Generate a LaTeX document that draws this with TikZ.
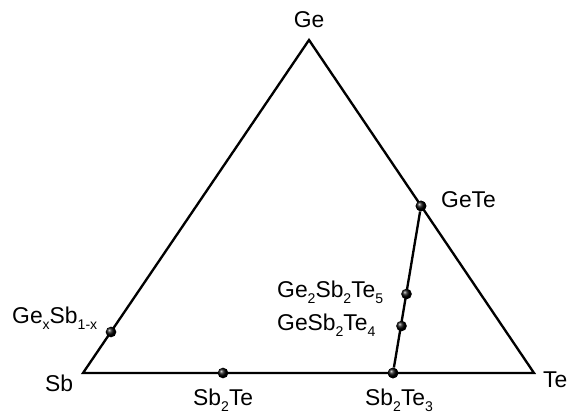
\documentclass[tikz,border=0pt]{standalone}
\usepackage{fontspec}
\setmainfont{Liberation Sans}
\usepackage{tikz}
\usetikzlibrary{positioning,shadings}
\newcommand{\chemsub}[1]{\raisebox{-5.5pt}{\fontsize{12}{12}\selectfont #1}}

\begin{document}
\begin{tikzpicture}[x=0.03cm, y=-0.03cm,
    edge/.style={line width=2pt, line join=miter},
    phase/.style={circle, inner sep=0pt, minimum size=0.32cm, shade, ball color=black},
    lbl/.style={anchor=base west, inner sep=0pt, font=\fontsize{19.5}{23}\selectfont}]
    \useasboundingbox (0, 0) rectangle (571, 416);
    % --- Corners of the triangle ---
    \coordinate (sb) at (83, 373);
    \coordinate (te) at (534, 373);
    \coordinate (ge) at (309, 40);
    \draw[edge] (sb) -- (te) -- (ge) -- cycle;

    % Tie line GeTe -- Sb2Te3
    \node[phase] (gete) at (421, 206) {};
    \node[phase] (sb2te3) at (393, 373) {};
    \draw[edge] (gete) -- (sb2te3);

    % Compounds on the tie line and the edges
    \node[phase] (gst225) at (406.5, 294) {};
    \node[phase] (gst124) at (401.5, 326) {};
    \node[phase] (sb2te) at (223, 373) {};
    \node[phase] (gesb) at (111, 332) {};
    \node[phase] at (gete) {};
    \node[phase] at (sb2te3) {};

    % --- Labels ---
    \node[lbl, anchor=base] (lge) at (309, 27) {Ge};
    \node[lbl] (lsb) at (45, 391) {Sb};
    \node[lbl] (lte) at (543, 387) {Te};
    \node[lbl] (lgete) at (441, 207) {GeTe};
    \node[lbl] (lgst225) at (277, 297) {Ge\chemsub{2}Sb\chemsub{2}Te\chemsub{5}};
    \node[lbl] (lgst124) at (277, 330) {GeSb\chemsub{2}Te\chemsub{4}};
    \node[lbl] (lgesb) at (12, 323) {Ge\chemsub{x}Sb\chemsub{1-x}};
    \node[lbl] (lsb2te) at (193, 405) {Sb\chemsub{2}Te};
    \node[lbl] (lsb2te3) at (365, 405) {Sb\chemsub{2}Te\chemsub{3}};
\end{tikzpicture}
\end{document}
